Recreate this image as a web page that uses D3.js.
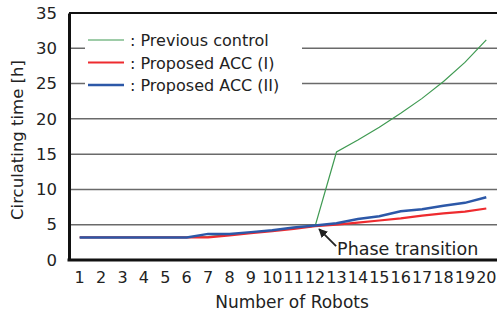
<!DOCTYPE html>
<html>
<head>
<meta charset="utf-8">
<script src="https://cdn.jsdelivr.net/npm/d3@7"></script>
<style>
  body { margin: 0; background: #fff; }
  svg text { font-family: "DejaVu Sans", Verdana, sans-serif; fill: #222; }
</style>
</head>
<body>
<svg width="497" height="311"></svg>
<script>
// robots 1..20
var robots = d3.range(1, 21)
var yTicks = [0, 5, 10, 15, 20, 25, 30, 35]

// circulating time [h]
var previousControl = [3.2, 3.2, 3.2, 3.2, 3.2, 3.2, 3.3, 3.6, 3.9, 4.2, 4.5, 4.8, 15.3, 17.0, 18.8, 20.8, 22.9, 25.3, 28.0, 31.2]
var proposedI  = [3.2, 3.2, 3.2, 3.2, 3.2, 3.2, 3.2, 3.5, 3.8, 4.1, 4.4, 4.8, 5.0, 5.3, 5.6, 5.9, 6.3, 6.6, 6.85, 7.3]
var proposedII = [3.2, 3.2, 3.2, 3.2, 3.2, 3.2, 3.7, 3.7, 3.95, 4.2, 4.6, 4.9, 5.2, 5.8, 6.2, 6.9, 7.2, 7.7, 8.1, 8.9]

var series = [
  { name: ": Previous control", values: previousControl, color: "#3f9a52", width: 1.2 },
  { name: ": Proposed ACC (I)", values: proposedI, color: "#ee2b2f", width: 2.2 },
  { name: ": Proposed ACC (II)", values: proposedII, color: "#2c58a8", width: 2.5 }
]

var svg = d3.select("svg")
var mLeft = 69, mRight = 497, mTop = 13, mBottom = 260

var x = d3.scaleBand().domain(robots).range([mLeft, mRight])
var y = d3.scaleLinear().domain([0, 35]).range([mBottom, mTop])

// gridlines
svg.append("g").selectAll("line")
  .data(yTicks.filter(function(d) { return d > 0 && d < 35 }))
  .enter().append("line")
    .attr("x1", mLeft).attr("x2", mRight)
    .attr("y1", function(d) { return y(d) }).attr("y2", function(d) { return y(d) })
    .style("stroke", "#6a6a6a").style("stroke-width", 1.5)

// top border
svg.append("line")
  .attr("x1", mLeft).attr("x2", mRight).attr("y1", y(35)).attr("y2", y(35))
  .style("stroke", "#111").style("stroke-width", 2)

// y axis
var yAxis = svg.append("g")
  .attr("transform", "translate(" + mLeft + ",0)")
  .call(d3.axisLeft(y).tickValues(yTicks).tickSize(0).tickPadding(12))
yAxis.select(".domain").style("stroke", "#111").style("stroke-width", 3)
yAxis.selectAll("text").style("font-size", "16.5px").attr("fill", "#222")

// x axis
var xAxis = svg.append("g")
  .attr("transform", "translate(0," + mBottom + ")")
  .call(d3.axisBottom(x).tickSize(0).tickPadding(12))
xAxis.select(".domain").attr("d", "M" + (mLeft - 1.5) + ",0H" + mRight).style("stroke", "#111").style("stroke-width", 3)
xAxis.selectAll("text").style("font-size", "16px").attr("fill", "#222")

// axis titles
svg.append("text")
  .attr("transform", "translate(23,140) rotate(-90)")
  .attr("text-anchor", "middle")
  .style("font-size", "16.5px")
  .text("Circulating time [h]")

svg.append("text")
  .attr("x", 292).attr("y", 308)
  .attr("text-anchor", "middle")
  .style("font-size", "17px")
  .text("Number of Robots")

// lines
var line = d3.line()
  .x(function(d, i) { return x(robots[i]) + x.bandwidth() / 2 })
  .y(function(d) { return y(d) })

svg.selectAll("path.series")
  .data(series)
  .enter().append("path")
    .attr("class", "series")
    .attr("d", function(d) { return line(d.values) })
    .style("fill", "none")
    .style("stroke", function(d) { return d.color })
    .style("stroke-width", function(d) { return d.width })

// legend (white box covers the gridlines)
var legend = svg.append("g")
legend.append("rect")
  .attr("x", 85).attr("y", 26).attr("width", 217).attr("height", 74)
  .style("fill", "#fff")
var items = legend.selectAll("g.item")
  .data(series)
  .enter().append("g")
    .attr("class", "item")
    .attr("transform", function(d, i) { return "translate(0," + (40 + i * 22.5) + ")" })
items.append("line")
  .attr("x1", 88).attr("x2", 124)
  .style("stroke", function(d) { return d.color })
  .style("stroke-width", function(d) { return d.width })
items.append("text")
  .attr("x", 130).attr("y", 6)
  .style("font-size", "16px")
  .text(function(d) { return d.name })

// phase transition annotation at 12 robots
var px = x(12) + x.bandwidth() / 2, py = y(previousControl[11])
svg.append("defs").append("marker")
  .attr("id", "arrow").attr("viewBox", "0 0 10 10")
  .attr("refX", 9).attr("refY", 5)
  .attr("markerWidth", 5).attr("markerHeight", 5)
  .attr("orient", "auto")
  .append("path").attr("d", "M0,0L10,5L0,10z").style("fill", "#222")
svg.append("line")
  .attr("x1", px + 21).attr("y1", py + 20)
  .attr("x2", px + 4).attr("y2", py + 3)
  .style("stroke", "#222").style("stroke-width", 1.8)
  .attr("marker-end", "url(#arrow)")
svg.append("text")
  .attr("x", px + 22).attr("y", py + 29)
  .style("font-size", "17.5px")
  .text("Phase transition")
</script>
</body>
</html>
